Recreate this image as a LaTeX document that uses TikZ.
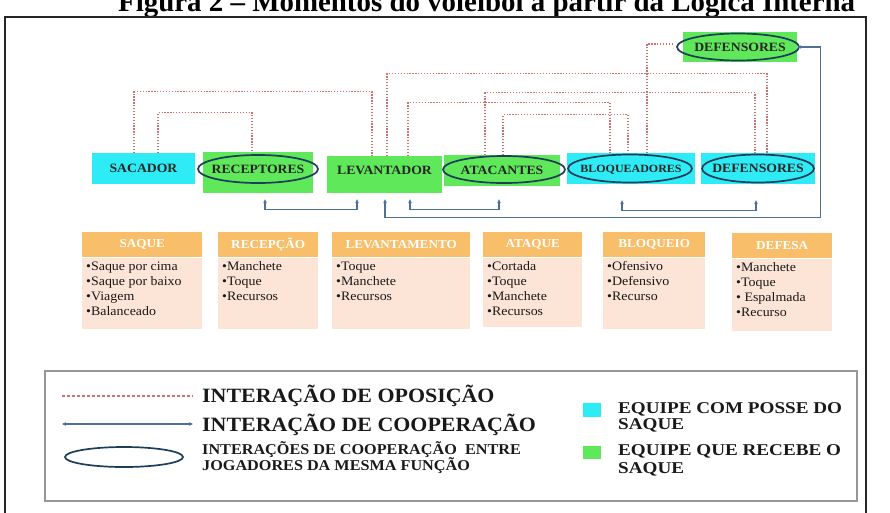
\documentclass[tikz,border=0pt]{standalone}
\usepackage{fontspec}
\setmainfont{Liberation Serif}
\newfontfamily\wideserif[FakeStretch=1.08]{Liberation Serif}
\newfontfamily\keyserif[FakeStretch=1.16]{Liberation Serif}
\usepackage{xcolor}
\usepackage{tikz}
\usetikzlibrary{shapes.geometric, arrows.meta}
\setlength{\lineskiplimit}{-20pt}
\definecolor{serve}{RGB}{45,236,246}
\definecolor{receive}{RGB}{95,232,90}
\definecolor{ringblue}{RGB}{28,62,88}
\definecolor{coopblue}{RGB}{78,112,150}
\definecolor{oppored}{RGB}{208,112,112}
\definecolor{headorange}{RGB}{248,190,105}
\definecolor{bodypeach}{RGB}{252,228,214}
\definecolor{legendgray}{RGB}{150,150,150}
\tikzstyle{player} = [rectangle, inner sep=0pt, text height=8.4pt, text depth=0pt, text=black!85, font=\wideserif\bfseries\fontsize{12.7}{14}\selectfont]
\tikzstyle{ring} = [draw=ringblue, line width=1.7pt]
\tikzstyle{head} = [rectangle, anchor=north west, inner sep=0pt, minimum height=25pt, fill=headorange, text=white, font=\wideserif\bfseries\fontsize{12.2}{14}\selectfont]
\tikzstyle{items} = [rectangle, anchor=north west, inner sep=4pt, fill=bodypeach, text=black!90, font=\wideserif\fontsize{12.9}{15}\selectfont]
\tikzstyle{oppo} = [draw=oppored, line width=1.3pt, dash pattern=on 1.3pt off 1.6pt]
\tikzstyle{coop} = [draw=coopblue, line width=1.1pt, {Stealth[length=4pt,width=3.6pt]}-{Stealth[length=4pt,width=3.6pt]}]
\tikzstyle{keytext} = [anchor=base west, inner sep=0pt, text=black!90, font=\keyserif\bfseries\fontsize{16.5}{15.5}\selectfont]

\begin{document}
\begin{tikzpicture}[x=1pt, y=-1pt]
		\useasboundingbox (0,0) rectangle (890,512);
		\clip (0,0) rectangle (890,512);
		\node[anchor=base west, inner sep=0pt, font=\bfseries\fontsize{28.9}{30}\selectfont] (title) at (118,11) {Figura 2 – Momentos do voleibol a partir da Lógica Interna};
		\draw[line width=1.6pt, black!85] (5,17) rectangle (866,530);

		% jogadores
		\node[player, fill=serve, minimum width=103, minimum height=31] (sacador) at (143.5,168.5) {SACADOR};
		\node[player, fill=receive, minimum width=110, minimum height=41, text depth=7pt] (receptores) at (258,172.5) {RECEPTORES};
		\node[player, fill=receive, minimum width=115, minimum height=37, text depth=9pt] (levantador) at (384.5,174.5) {LEVANTADOR};
		\node[player, fill=receive, minimum width=116, minimum height=31] (atacantes) at (502,170.5) {ATACANTES};
		\node[player, fill=serve, minimum width=128, minimum height=31, text height=7.4pt, font=\wideserif\bfseries\fontsize{11.1}{12}\selectfont] (bloqueadores) at (631,168.5) {BLOQUEADORES};
		\node[player, fill=serve, minimum width=114, minimum height=31] (defensores) at (758,168.5) {DEFENSORES};
		\node[player, fill=receive, minimum width=114, minimum height=30] (defensorestop) at (740,47) {DEFENSORES};
		\draw[ring] ([yshift=3.5]receptores.center) ellipse [x radius=60, y radius=14];
		\draw[ring] ([xshift=2,yshift=1]atacantes.center) ellipse [x radius=61, y radius=13.5];
		\draw[ring] ([xshift=-1]bloqueadores.center) ellipse [x radius=62, y radius=14];
		\draw[ring] (defensores.center) ellipse [x radius=56, y radius=14];
		\draw[ring] ([xshift=-2]defensorestop.center) ellipse [x radius=61, y radius=13.5];

		% oposicao
		\draw[oppo] ([xshift=-9.5]sacador.north) -- ++(0,-61) -| ([xshift=-12.5]levantador.north);
		\draw[oppo] ([xshift=14.5]sacador.north) -- ++(0,-40) -| ([xshift=-6]receptores.north);
		\draw[oppo] ([xshift=2.5]levantador.north) -- ++(0,-82) -| ([xshift=9]defensores.north);
		\draw[oppo] ([xshift=23.5]levantador.north) -- ++(0,-53) -| ([xshift=-21]bloqueadores.north);
		\draw[oppo] ([xshift=-17]atacantes.north) -- ++(0,-62) -| ([xshift=-3]defensores.north);
		\draw[oppo] ([xshift=1]atacantes.north) -- ++(0,-40) -| ([xshift=-3]bloqueadores.north);
		\draw[oppo] ([xshift=16]bloqueadores.north) |- ([xshift=-10,yshift=3]defensorestop.west);

		% cooperacao
		\draw[coop] ([xshift=7,yshift=-6]receptores.south) -- ++(0,10) -| ([xshift=-27.5,yshift=-6]levantador.south);
		\draw[coop] ([xshift=25.5,yshift=-6]levantador.south) -- ++(0,10) -| ([xshift=-3,yshift=-13]atacantes.south);
		\draw[coop] ([xshift=-9,yshift=-16]bloqueadores.south) -- ++(0,10) -| ([xshift=-2,yshift=-16]defensores.south);
		\draw[coop] ([xshift=0.5,yshift=-6]levantador.south) -- ++(0,18) -| ([xshift=23]defensorestop.east) -- (defensorestop.east);

		% momentos
		\node[head, minimum width=120] (saquehead) at (82,232) {SAQUE};
		\node[items] (saquebody) at (saquehead.south west) {\begin{minipage}[t][63pt][t]{112pt}•Saque por cima\\•Saque por baixo\\•Viagem\\•Balanceado\end{minipage}};
		\node[head, minimum width=100] (recepcaohead) at (218,232) {RECEPÇÃO};
		\node[items] (recepcaobody) at (recepcaohead.south west) {\begin{minipage}[t][63pt][t]{92pt}•Manchete\\•Toque\\•Recursos\end{minipage}};
		\node[head, minimum width=138] (levantamentohead) at (332,232) {LEVANTAMENTO};
		\node[items] (levantamentobody) at (levantamentohead.south west) {\begin{minipage}[t][63pt][t]{130pt}•Toque\\•Manchete\\•Recursos\end{minipage}};
		\node[head, minimum width=99] (ataquehead) at (483,232) {ATAQUE};
		\node[items] (ataquebody) at (ataquehead.south west) {\begin{minipage}[t][61pt][t]{91pt}•Cortada\\•Toque\\•Manchete\\•Recursos\end{minipage}};
		\node[head, minimum width=102] (bloqueiohead) at (603,232) {BLOQUEIO};
		\node[items] (bloqueiobody) at (bloqueiohead.south west) {\begin{minipage}[t][63pt][t]{94pt}•Ofensivo\\•Defensivo\\•Recurso\end{minipage}};
		\node[head, minimum width=100] (defesahead) at (732,233) {DEFESA};
		\node[items] (defesabody) at (defesahead.south west) {\begin{minipage}[t][64pt][t]{92pt}•Manchete\\•Toque\\• Espalmada\\•Recurso\end{minipage}};

		% legenda
		\node[draw=legendgray, line width=1.3pt, inner sep=0pt, minimum width=812, minimum height=130] (legend) at (451,436) {};
		\coordinate (oppoleft) at (62,396);
		\coordinate (opporight) at (193,396);
		\draw[oppo, dash pattern=on 3pt off 2pt] (oppoleft) -- (opporight);
		\node[keytext, font=\wideserif\bfseries\fontsize{20.3}{22}\selectfont] (oppolabel) at (202,402) {INTERAÇÃO DE OPOSIÇÃO};
		\coordinate (coopleft) at (62,424);
		\coordinate (coopright) at (193,424);
		\draw[coop] (coopleft) -- (coopright);
		\node[keytext, font=\wideserif\bfseries\fontsize{20.3}{22}\selectfont] (cooplabel) at (202,431) {INTERAÇÃO DE COOPERAÇÃO};
		\draw[ring] (124,457) ellipse [x radius=59, y radius=10];
		\node[keytext, font=\wideserif\bfseries\fontsize{15}{13}\selectfont] (ringlabel) at (202,454) {\begin{minipage}[t]{340pt}INTERAÇÕES DE COOPERAÇÃO\ \ ENTRE\\JOGADORES DA MESMA FUNÇÃO\end{minipage}};
		\node[fill=serve, inner sep=0pt, minimum width=18, minimum height=14] (servekey) at (592,410) {};
		\node[keytext] (servelabel) at (618,413.5) {\begin{minipage}[t]{240pt}EQUIPE COM POSSE DO\\SAQUE\end{minipage}};
		\node[fill=receive, inner sep=0pt, minimum width=18, minimum height=13] (receivekey) at (592,452) {};
		\node[keytext, font=\keyserif\bfseries\fontsize{16.5}{18}\selectfont] (receivelabel) at (618,455) {\begin{minipage}[t]{240pt}EQUIPE QUE RECEBE O\\SAQUE\end{minipage}};
	\end{tikzpicture}
\end{document}
